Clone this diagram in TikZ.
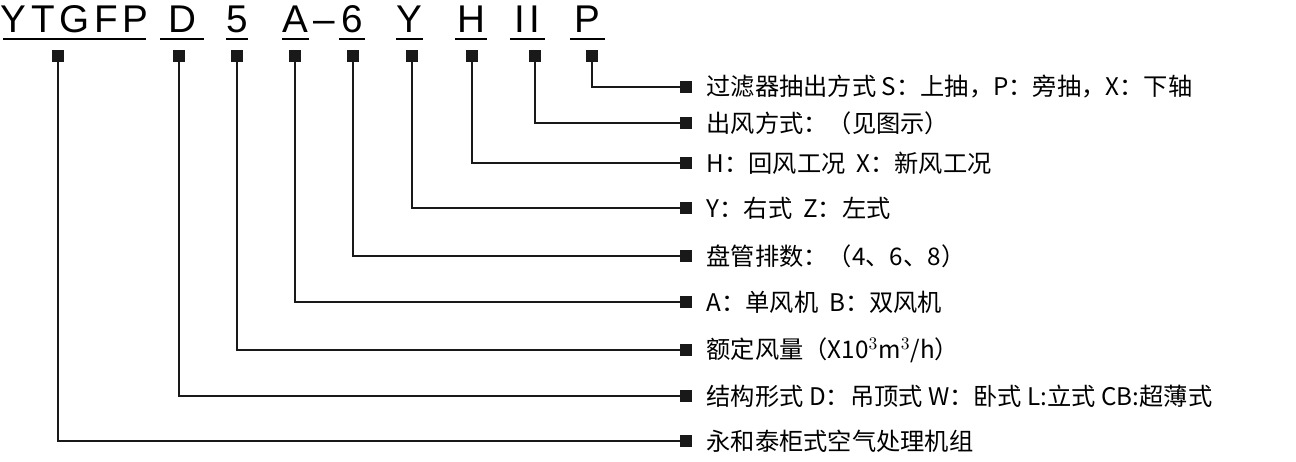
\documentclass[tikz,border=0pt]{standalone}
\usepackage{fontspec}
\setmainfont{Liberation Sans}
\newfontfamily\cjk{Noto Sans CJK SC}
\usetikzlibrary{positioning}
\tikzset{
  sq/.style={draw=none, fill=black!90, minimum size=0.24cm, inner sep=0pt},
  code/.style={anchor=base, font=\addfontfeature{LetterSpace=12}\fontsize{22}{24}\selectfont, inner sep=0pt},
  lab/.style={anchor=west, font=\cjk\fontsize{13.8}{15}\selectfont, inner sep=0pt},
  conn/.style={line width=0.8pt, black!90}
}
\begin{document}
\begin{tikzpicture}[x=0.02cm, y=-0.02cm]
\useasboundingbox (0,0) rectangle (1296,462);

% code letters with underlines
\foreach \txt/\xa/\xb/\n in {YTGFP/3/146/1, D/160/204/2, 5/226/248/3, A/282/309/4, 6/339/365/5, Y/396/423/6, H/455/487/7, II/510/545/8, P/570/605/9}{
  \node[code] (c\n) at ({(\xa+\xb)/2},33) {\txt};
  \draw[line width=0.8pt] (\xa,39) -- (\xb,39);
}
\node[code] (dash) at (324,33) {--};

% squares and connectors
\foreach \x/\y/\n/\txt in {
  592/87/9/{过滤器抽出方式\ S：上抽，P：旁抽，X：下轴},
  535/123/8/{出风方式：（见图示）},
  472/163/7/{H：回风工况\ \ X：新风工况},
  412/208/6/{Y：右式\ \ Z：左式},
  353/256/5/{盘管排数：（4、6、8）},
  295/302/4/{A：单风机\ \ B：双风机},
  237/350/3/{额定风量（X10$^3$m$^3$/h）},
  179/396/2/{结构形式\ D：吊顶式\ W：卧式\ L:立式\ CB:超薄式},
  58/441/1/{永和泰柜式空气处理机组}}{
  \node[sq] (t\n) at (\x,56) {};
  \node[sq] (r\n) at (686,\y) {};
  \node[lab, right=0.28cm of r\n] (l\n) {\txt};
  \draw[conn] (t\n.south) |- (r\n.west);
}
\end{tikzpicture}
\end{document}
